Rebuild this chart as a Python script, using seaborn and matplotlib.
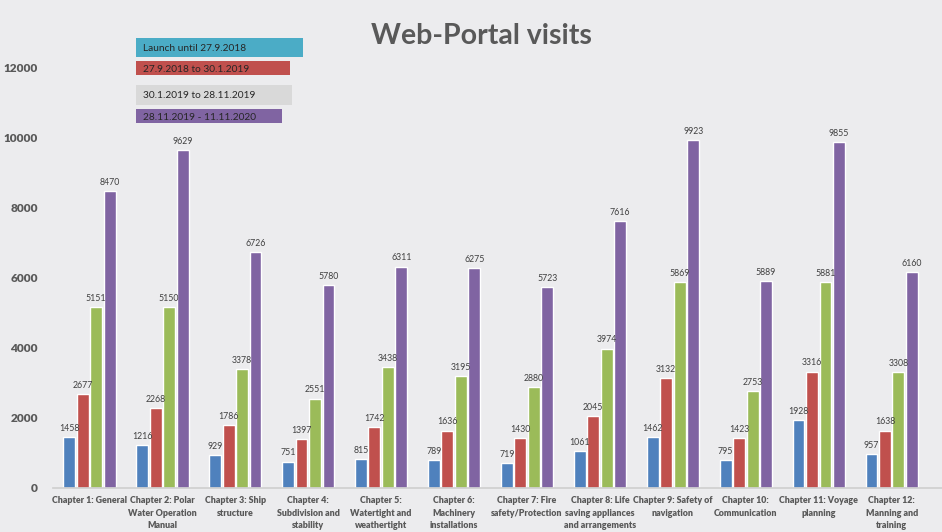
import matplotlib
matplotlib.use("Agg")
import matplotlib.pyplot as plt
import seaborn as sns
import pandas as pd
from matplotlib.patches import Rectangle

# --- data ---
chapters = [
    "Chapter 1: General",
    "Chapter 2: Polar\nWater Operation\nManual",
    "Chapter 3: Ship\nstructure",
    "Chapter 4:\nSubdivision and\nstability",
    "Chapter 5:\nWatertight and\nweathertight\nintegrity",
    "Chapter 6:\nMachinery\ninstallations",
    "Chapter 7: Fire\nsafety/Protection",
    "Chapter 8: Life\nsaving appliances\nand arrangements",
    "Chapter 9: Safety of\nnavigation",
    "Chapter 10:\nCommunication",
    "Chapter 11: Voyage\nplanning",
    "Chapter 12:\nManning and\ntraining",
]
periods = ["Launch until 27.9.2018", "27.9.2018 to 30.1.2019",
           "30.1.2019 to 28.11.2019", "28.11.2019 - 11.11.2020"]
launch = [1458, 1216, 929, 751, 815, 789, 719, 1061, 1462, 795, 1928, 957]
period2 = [2677, 2268, 1786, 1397, 1742, 1636, 1430, 2045, 3132, 1423, 3316, 1638]
period3 = [5151, 5150, 3378, 2551, 3438, 3195, 2880, 3974, 5869, 2753, 5881, 3308]
period4 = [8470, 9629, 6726, 5780, 6311, 6275, 5723, 7616, 9923, 5889, 9855, 6160]

bar_colors = ["#4f81bd", "#c0504d", "#9bbb59", "#8064a2"]
legend_colors = ["#4bacc6", "#c0504d", "#d9d9d9", "#8064a2"]
bg = "#ececee"
txt = "#595959"

rows = []
for p, vals in zip(periods, [launch, period2, period3, period4]):
    for c, v in zip(chapters, vals):
        rows.append({"chapter": c, "period": p, "visits": v})
df = pd.DataFrame(rows)

sns.set_theme(style="white")
plt.rcParams['font.family'] = ['Lato', 'DejaVu Sans']

fig = plt.figure(figsize=(9.42, 5.32), dpi=100, facecolor=bg)
ax = fig.add_axes([53 / 942, 44 / 532, 889 / 942, 421 / 532], facecolor=bg)

sns.barplot(data=df, x="chapter", y="visits", hue="period", palette=bar_colors,
            width=0.74, gap=0.12, saturation=1, legend=False, ax=ax)

for cont in ax.containers:
    ax.bar_label(cont, fmt="%d", fontsize=6.3, color="#404040", padding=3)

ax.set_ylim(0, 12000)
ax.set_xlim(-0.5, 11.69)
ax.set_yticks(range(0, 12001, 2000))
ax.set_xlabel("")
ax.set_ylabel("")
for s in ["top", "right", "left"]:
    ax.spines[s].set_visible(False)
ax.spines["bottom"].set_color("#d0d0d0")
ax.tick_params(axis="y", length=0, pad=11, labelsize=8.6, labelcolor=txt)
ax.tick_params(axis="x", length=0, pad=6, labelsize=6.4, labelcolor=txt)
for lab in ax.get_yticklabels() + ax.get_xticklabels():
    lab.set_fontweight("heavy")
for lab in ax.get_xticklabels():
    lab.set_linespacing(1.5)
    lab.set_verticalalignment("top")

fig.text(481 / 942, 1 - 36 / 532, "Web-Portal visits", ha="center", va="center",
         fontsize=20.5, fontweight="bold", color=txt)

# legend drawn as coloured boxes with text inside
boxes = [(38, 57, 303), (61, 75, 290), (85, 105, 292), (109, 123, 282)]
for (top, bottom, right), col, lab in zip(boxes, legend_colors, periods):
    fig.patches.append(Rectangle((136 / 942, 1 - bottom / 532), (right - 136) / 942,
                                 (bottom - top) / 532, transform=fig.transFigure,
                                 facecolor=col, edgecolor="none"))
    fig.text(143 / 942, 1 - ((top + bottom) / 2 + 1) / 532, lab, ha="left", va="center",
             fontsize=7.3, color="#262626")

fig.savefig("out.png", dpi=100, facecolor=bg)
